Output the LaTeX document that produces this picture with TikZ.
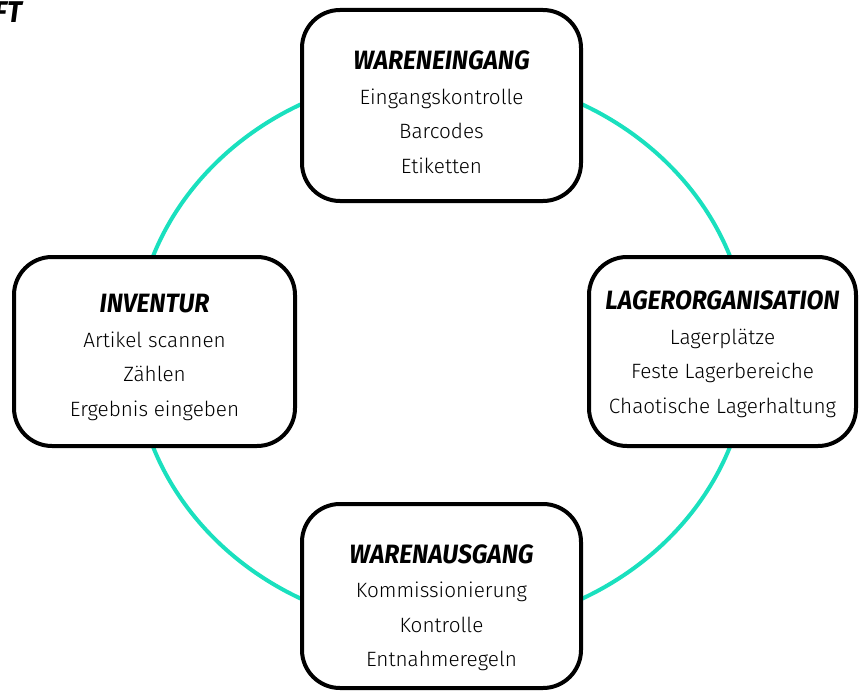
\documentclass[tikz,border=0pt]{standalone}
\usepackage{fontspec}
\setmainfont{Fira Sans Light}
\newfontfamily\titleFont{Fira Sans}[FakeStretch=0.93]
\usetikzlibrary{positioning}
\definecolor{cycleTeal}{RGB}{26,224,190}
% title line of a stage, the optional strut sets the text block's drop
\newcommand{\stageTitle}[2][32]{{\titleFont\bfseries\itshape\fontsize{26.5}{34.5}\selectfont\rule{0pt}{#1pt}#2}}
\tikzset{
    stageBox/.style={draw=black, line width=4pt, rounded corners=38pt, fill=white, align=center,
        inner sep=0pt, minimum width=279pt, minimum height=191pt, font=\fontsize{20.7}{34.5}\selectfont},
    cycleLine/.style={draw=cycleTeal, line width=4pt},
    cutTitle/.style={anchor=base east, inner sep=0pt, font=\titleFont\bfseries\itshape\fontsize{30}{30}\selectfont}
}
\begin{document}
\begin{tikzpicture}[x=1pt, y=-1pt]
        \useasboundingbox (0,0) rectangle (860,693);

        % Cycle behind the stages
        \coordinate (C) at (441.5,351.5);
        \draw[cycleLine] (C) ellipse [x radius=307pt, y radius=278pt];

        % Stages
        \node[stageBox] (eingang) at (441.5,105.5)
            {\stageTitle[32]{WARENEINGANG}\\Eingangskontrolle\\Barcodes\\Etiketten};
        \node[stageBox, minimum width=267pt, minimum height=189pt] (lager) at (722.5,351.5)
            {\stageTitle[24]{LAGERORGANISATION}\\Lagerplätze\\Feste Lagerbereiche\\Chaotische Lagerhaltung};
        \node[stageBox, minimum height=184pt] (ausgang) at (441.5,596)
            {\stageTitle[42]{WARENAUSGANG}\\Kommissionierung\\Kontrolle\\Entnahmeregeln};
        \node[stageBox, minimum width=281pt, minimum height=189pt] (inventur) at (154.5,351.5)
            {\stageTitle[30]{INVENTUR}\\Artikel scannen\\Zählen\\Ergebnis eingeben};

        % Cut-off heading
        \node[cutTitle] (heading) at (22,23) {FT};
\end{tikzpicture}
\end{document}
